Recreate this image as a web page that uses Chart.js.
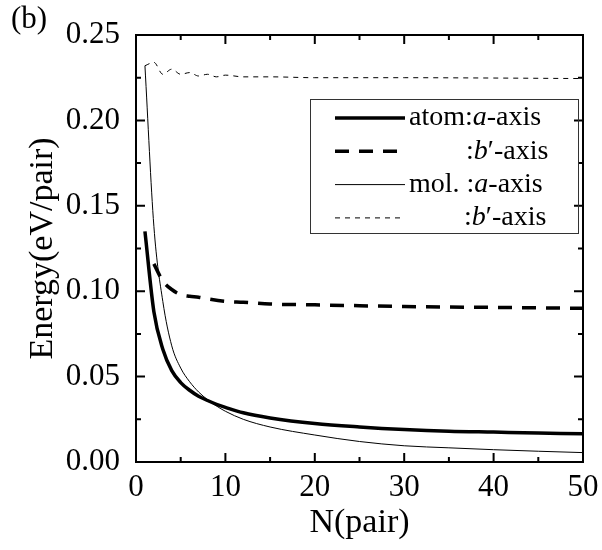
<!DOCTYPE html>
<html>
<head>
<meta charset="utf-8">
<script src="https://cdn.jsdelivr.net/npm/chart.js@4"></script>
<style>
  body { margin: 0; background: #fff; }
  canvas { display: block; }
</style>
</head>
<body>
<canvas id="energyChart" width="602" height="550"></canvas>
<script>
// values, N(pair) vs energy (eV/pair)
const atomAxisA_N = [1, 2, 3, 4, 5, 6, 7, 8, 9, 10, 12, 15, 20, 25, 30, 35, 40, 45, 50]
const atomAxisA = [0.135, 0.088, 0.066, 0.0535, 0.0465, 0.042, 0.0385, 0.036, 0.0338, 0.032, 0.0288, 0.0258, 0.0225, 0.0205, 0.019, 0.018, 0.0175, 0.017, 0.0165]

const atomAxisB_N = [2, 3, 4, 5, 6, 7, 8, 10, 12, 15, 20, 25, 30, 40, 50]
const atomAxisB = [0.116, 0.106, 0.101, 0.098, 0.097, 0.0965, 0.0955, 0.094, 0.0935, 0.0925, 0.092, 0.0915, 0.091, 0.0905, 0.090]

const molAxisA_N = [1, 2, 3, 4, 5, 6, 7, 8, 9, 10, 12, 15, 20, 25, 30, 35, 40, 45, 50]
const molAxisA = [0.232, 0.138, 0.094, 0.068, 0.055, 0.047, 0.041, 0.0365, 0.0328, 0.0297, 0.025, 0.0205, 0.0158, 0.012, 0.0095, 0.0083, 0.0072, 0.0063, 0.0055]

const molAxisB_N = [1, 2, 3, 4, 5, 6, 7, 8, 9, 10, 12, 15, 20, 30, 40, 50]
const molAxisB = [0.232, 0.234, 0.227, 0.230, 0.227, 0.228, 0.226, 0.227, 0.2255, 0.2265, 0.2255, 0.2255, 0.225, 0.225, 0.2248, 0.2245]

// legend text: pieces marked true are italic
const legendLabels = [
  [['atom:', false], ['a', true], ['-axis', false]],
  [[':', false], ['b', true], ['\u2032-axis', false]],
  [['mol. :', false], ['a', true], ['-axis', false]],
  [[':', false], ['b', true], ['\u2032-axis', false]]
]
const legendIndent = [0, 57, 0, 55]

const serif = '"Liberation Serif", "Times New Roman", Times, serif'

function points(xs, ys) {
  return xs.map((x, i) => ({ x: x, y: ys[i] }))
}

// inward ticks on all four sides + frame
const frameTicks = {
  id: 'frameTicks',
  afterDraw(chart) {
    const { ctx, chartArea: a, scales: { x, y } } = chart
    ctx.save()
    ctx.strokeStyle = '#000'
    ctx.lineWidth = 2
    ctx.strokeRect(a.left, a.top, a.right - a.left, a.bottom - a.top)
    for (let v = 0; v <= 50; v += 5) {
      const px = x.getPixelForValue(v)
      const len = v % 10 === 0 ? 9 : 5
      ctx.beginPath()
      ctx.moveTo(px, a.bottom); ctx.lineTo(px, a.bottom - len)
      ctx.moveTo(px, a.top); ctx.lineTo(px, a.top + len)
      ctx.stroke()
    }
    for (let k = 0; k <= 10; k++) {
      const py = y.getPixelForValue(k * 0.025)
      const len = k % 2 === 0 ? 9 : 5
      ctx.beginPath()
      ctx.moveTo(a.left, py); ctx.lineTo(a.left + len, py)
      ctx.moveTo(a.right, py); ctx.lineTo(a.right - len, py)
      ctx.stroke()
    }
    ctx.restore()
  }
}

const boxLegend = {
  id: 'boxLegend',
  afterDraw(chart) {
    const ctx = chart.ctx
    ctx.save()
    ctx.strokeStyle = '#333'
    ctx.lineWidth = 1
    ctx.strokeRect(310.5, 99.5, 268, 134)
    chart.data.datasets.forEach((ds, i) => {
      const rowY = 118 + i * 33.3
      ctx.strokeStyle = '#000'
      ctx.lineWidth = ds.borderWidth
      ctx.setLineDash(ds.borderDash || [])
      ctx.beginPath()
      ctx.moveTo(335, rowY); ctx.lineTo(405, rowY)
      ctx.stroke()
      ctx.setLineDash([])
      let tx = 409 + legendIndent[i]
      ctx.fillStyle = '#000'
      ctx.textBaseline = 'middle'
      legendLabels[i].forEach(([t, it]) => {
        ctx.font = (it ? 'italic ' : '') + '28px ' + serif
        ctx.fillText(t, tx, rowY)
        tx += ctx.measureText(t).width
      })
    })
    ctx.restore()
  }
}

const ctx = document.getElementById('energyChart')
new Chart(ctx, {
  type: 'line',
  data: {
    datasets: [
      { label: 'atom:a-axis', data: points(atomAxisA_N, atomAxisA), borderColor: '#000', borderWidth: 3.5 },
      { label: ':b\u2032-axis', data: points(atomAxisB_N, atomAxisB), borderColor: '#000', borderWidth: 3.5, borderDash: [14, 10] },
      { label: 'mol. :a-axis', data: points(molAxisA_N, molAxisA), borderColor: '#000', borderWidth: 1 },
      { label: ':b\u2032-axis', data: points(molAxisB_N, molAxisB), borderColor: '#000', borderWidth: 1, borderDash: [5, 5] }
    ]
  },
  options: {
    responsive: false,
    animation: false,
    layout: { padding: { left: 11, right: 19, top: 0, bottom: 0 } },
    elements: {
      point: { radius: 0 },
      line: { cubicInterpolationMode: 'monotone', fill: false }
    },
    plugins: {
      legend: { display: false },
      tooltip: { enabled: false },
      title: {
        display: true,
        text: '(b)',
        align: 'start',
        color: '#000',
        font: { family: serif, size: 31, weight: 'normal', lineHeight: 1 },
        padding: { top: 4, bottom: 0 }
      }
    },
    scales: {
      x: {
        type: 'linear',
        min: 0,
        max: 50,
        grid: { display: false },
        border: { display: false },
        ticks: { stepSize: 10, color: '#000', padding: -1, maxRotation: 0, font: { family: serif, size: 31 } },
        title: { display: true, text: 'N(pair)', color: '#000', padding: { top: 0, bottom: 10 }, font: { family: serif, size: 34, lineHeight: 1 } },
        afterFit(scale) { scale.height = 88 }
      },
      y: {
        min: 0,
        max: 0.25,
        grid: { display: false },
        border: { display: false },
        ticks: { stepSize: 0.05, color: '#000', padding: 8, font: { family: serif, size: 31 }, callback: v => v.toFixed(2) },
        title: { display: true, text: 'Energy(eV/pair)', color: '#000', padding: { top: 15, bottom: 0 }, font: { family: serif, size: 34, lineHeight: 1 } },
        afterFit(scale) { scale.width = 125 }
      }
    }
  },
  plugins: [frameTicks, boxLegend]
})
</script>
</body>
</html>
